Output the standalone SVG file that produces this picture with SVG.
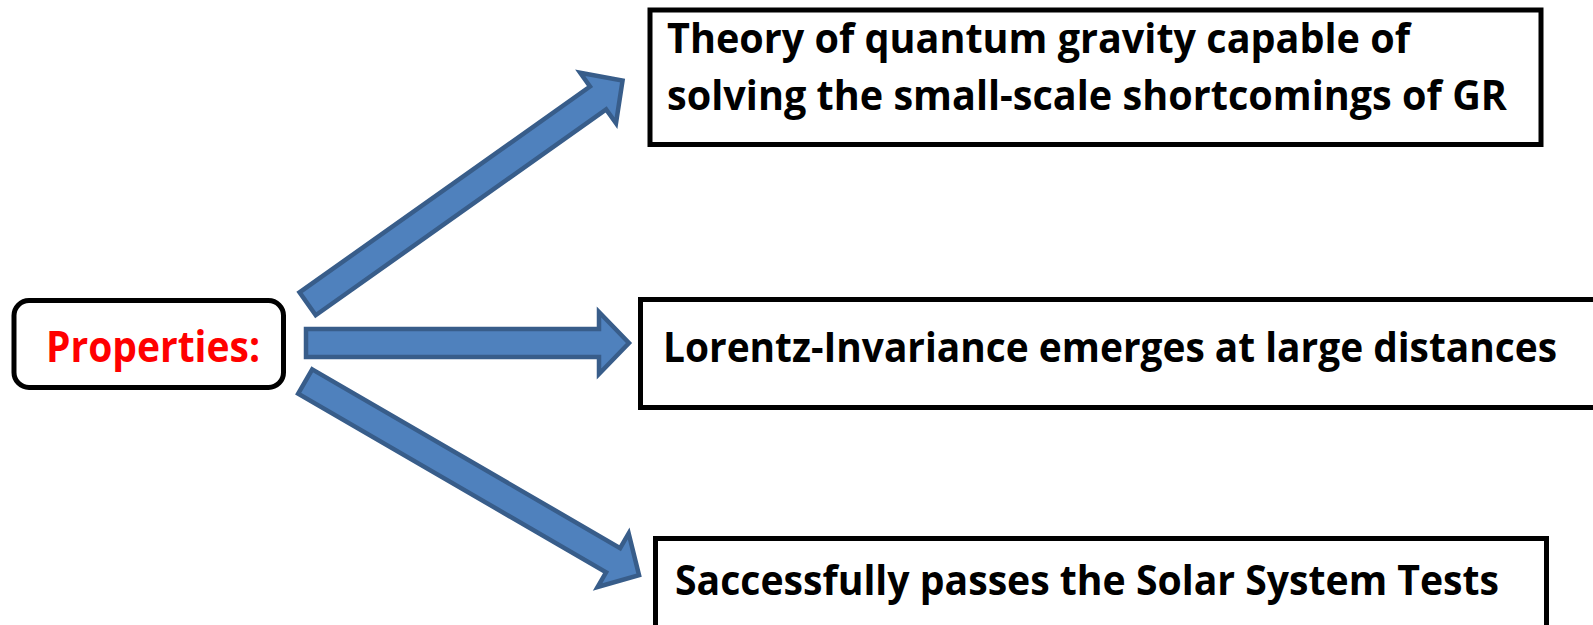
<svg xmlns="http://www.w3.org/2000/svg" width="1593" height="625" viewBox="0 0 1593 625">
  <style>
    .box { fill: #ffffff; stroke: #000000; stroke-width: 5; }
    .arrow { fill: #4F81BD; stroke: #385D8A; stroke-width: 4.5; stroke-linejoin: miter; }
    .lbl { font-family: "Open Sans", "Liberation Sans", sans-serif; font-weight: bold; font-size: 42px; fill: #000000; }
    .red { fill: #FF0000; font-size: 43px; }
  </style>
  <rect width="1593" height="625" fill="#ffffff"/>
  <g id="connectors">
    <path class="arrow" transform="translate(307.6,303.8) rotate(-35.32)" d="M0,-14 L356,-14 L356,-31 L386,0 L356,31 L356,14 L0,14 Z"/>
    <path class="arrow" transform="translate(306,343)" d="M0,-14 L293,-14 L293,-31 L323,0 L293,31 L293,14 L0,14 Z"/>
    <path class="arrow" transform="translate(305.2,381.5) rotate(30.13)" d="M0,-14 L356,-14 L356,-31 L386,0 L356,31 L356,14 L0,14 Z"/>
  </g>
  <g id="properties">
    <rect class="box" x="14" y="300.5" width="269.5" height="87" rx="15" ry="15"/>
    <text class="lbl red" x="46" y="362" textLength="214" lengthAdjust="spacingAndGlyphs">Properties:</text>
  </g>
  <g id="quantum-gravity">
    <rect class="box" x="650" y="10" width="891" height="134.5"/>
    <text class="lbl" x="667" y="53" textLength="743" lengthAdjust="spacingAndGlyphs">Theory of quantum gravity capable of</text>
    <text class="lbl" x="667" y="110" textLength="840" lengthAdjust="spacingAndGlyphs">solving the small-scale shortcomings of GR</text>
  </g>
  <g id="lorentz">
    <rect class="box" x="640.5" y="299.5" width="970" height="108"/>
    <text class="lbl" x="663" y="362" textLength="894" lengthAdjust="spacingAndGlyphs">Lorentz-Invariance emerges at large distances</text>
  </g>
  <g id="solar-system">
    <rect class="box" x="655.5" y="538.5" width="891" height="110"/>
    <text class="lbl" x="675" y="595" textLength="824" lengthAdjust="spacingAndGlyphs">Saccessfully passes the Solar System Tests</text>
  </g>
</svg>
